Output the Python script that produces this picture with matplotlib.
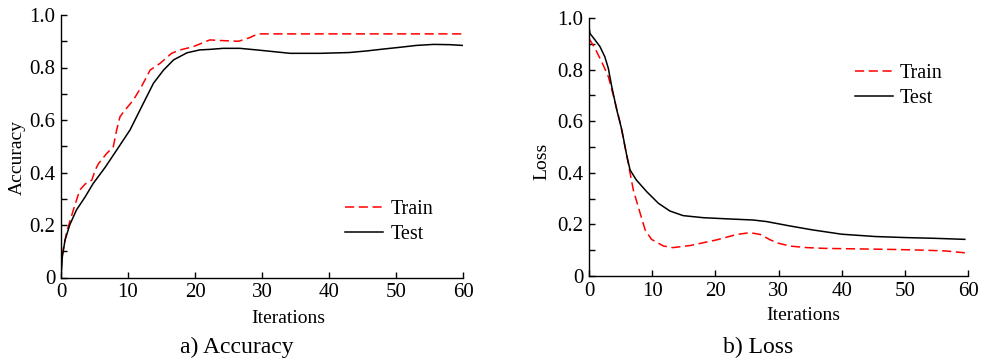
import numpy as np
import matplotlib
matplotlib.use("Agg")
import matplotlib.pyplot as plt

plt.rcParams['font.family'] = ['Liberation Serif', 'DejaVu Serif']

# Accuracy data
acc_train_x = [0, 0.2, 0.85, 1.84, 2.8, 3.6, 4.6, 5.1, 5.6, 6.8, 7.8, 8.3, 8.8, 9.3, 10.8, 12.0, 13.3, 14.8, 16.5, 17.8, 19.7, 22.2, 24.5, 26.5, 28.0, 29.4, 35, 40, 45, 50, 55, 60]
acc_train_y = [0.03, 0.09, 0.174, 0.257, 0.333, 0.356, 0.371, 0.409, 0.434, 0.472, 0.498, 0.561, 0.612, 0.630, 0.676, 0.727, 0.79, 0.816, 0.854, 0.867, 0.879, 0.905, 0.902, 0.900, 0.912, 0.928, 0.928, 0.928, 0.928, 0.928, 0.928, 0.928]
acc_test_x = [0, 0.2, 0.6, 1.3, 2.3, 3.6, 4.8, 6.6, 8.3, 10.3, 12.3, 13.8, 15.3, 16.8, 18.8, 20.7, 22.2, 24.2, 26.7, 29.2, 34.2, 38.7, 43.0, 45.6, 48.0, 50.6, 53.0, 55.6, 58.0, 60.0]
acc_test_y = [0.0, 0.079, 0.142, 0.2, 0.257, 0.307, 0.358, 0.42, 0.485, 0.562, 0.664, 0.740, 0.790, 0.829, 0.856, 0.867, 0.869, 0.873, 0.873, 0.867, 0.854, 0.854, 0.857, 0.863, 0.870, 0.877, 0.884, 0.888, 0.887, 0.884]

# Loss data
loss_train_x = [0, 0.95, 2.0, 3.06, 3.85, 4.9, 5.96, 7.02, 8.1, 8.9, 9.9, 11.8, 13.3, 16.0, 20.2, 23.4, 25.5, 27.1, 28.7, 30.0, 31.8, 34.5, 37.4, 42.7, 48.0, 53.2, 56.5, 59.5]
loss_train_y = [0.921, 0.882, 0.831, 0.773, 0.70, 0.598, 0.469, 0.333, 0.243, 0.178, 0.142, 0.116, 0.11, 0.118, 0.14, 0.161, 0.168, 0.161, 0.14, 0.127, 0.116, 0.110, 0.107, 0.105, 0.103, 0.10, 0.097, 0.09]
loss_test_x = [0, 0.16, 0.95, 1.74, 2.5, 3.06, 3.6, 4.4, 5.2, 5.96, 6.5, 7.5, 9.13, 10.98, 12.8, 14.9, 18.1, 22.3, 26.0, 28.1, 31.8, 35.3, 40.0, 45.3, 50.0, 54.8, 59.5]
loss_test_y = [0.966, 0.94, 0.915, 0.889, 0.85, 0.805, 0.734, 0.643, 0.566, 0.469, 0.411, 0.372, 0.327, 0.282, 0.252, 0.234, 0.226, 0.221, 0.217, 0.211, 0.194, 0.179, 0.162, 0.153, 0.149, 0.146, 0.142]

x_ticks = [0, 10, 20, 30, 40, 50, 60]
y_ticks = [0, 0.2, 0.4, 0.6, 0.8, 1.0]
y_tick_labels = ['0', '0.2', '0.4', '0.6', '0.8', '1.0']

fig = plt.figure(figsize=(9.82, 3.63), dpi=100)
W, H = 982, 363
ax1 = fig.add_axes([61 / W, 1 - 277.5 / H, (463 - 61) / W, (277.5 - 15) / H])
ax2 = fig.add_axes([589 / W, 1 - 276 / H, (968 - 589) / W, (276 - 18) / H])


def style(ax, ylabel, ylab_xy):
    ax.set_xlim(0, 60)
    ax.set_ylim(0, 1.0)
    ax.spines['top'].set_visible(False)
    ax.spines['right'].set_visible(False)
    for s in ['left', 'bottom']:
        ax.spines[s].set_linewidth(1.0)
    ax.set_xticks(x_ticks)
    ax.set_yticks(y_ticks)
    ax.set_yticklabels(y_tick_labels)
    ax.set_yticks(np.arange(0.1, 1.0, 0.2), minor=True)
    ax.tick_params(axis='both', which='both', direction='in', labelsize=15, width=1.0)
    ax.tick_params(axis='both', which='major', length=4)
    ax.tick_params(axis='x', which='major', pad=4)
    ax.tick_params(axis='y', which='major', pad=4)
    ax.tick_params(axis='both', which='minor', length=4)
    ax.set_xlabel('Iterations', fontsize=14, va='center')
    ax.xaxis.set_label_coords(0.565, -0.155)
    ax.set_ylabel(ylabel, fontsize=14, va='center')
    ax.yaxis.set_label_coords(*ylab_xy)


lw = 1.1
ax1.plot(acc_train_x, acc_train_y, color='red', linestyle=(0, (6, 3)), linewidth=lw, label='Train')
ax1.plot(acc_test_x, acc_test_y, color='black', linestyle='-', linewidth=lw, label='Test')
style(ax1, 'Accuracy', (-0.109, 0.459))
ax1.legend(loc='upper left', bbox_to_anchor=(0.687, 0.325), frameon=False, fontsize=14.5,
           handlelength=1.9, handletextpad=0.35, labelspacing=0.3, borderaxespad=0)
fig.text(237 / W, 1 - 347 / H, 'a) Accuracy', fontsize=17, ha='center', va='center')

ax2.plot(loss_train_x, loss_train_y, color='red', linestyle=(0, (6, 3)), linewidth=lw, label='Train')
ax2.plot(loss_test_x, loss_test_y, color='black', linestyle='-', linewidth=lw, label='Test')
style(ax2, 'Loss', (-0.125, 0.446))
ax2.legend(loc='upper left', bbox_to_anchor=(0.68, 0.853), frameon=False, fontsize=14.5,
           handlelength=1.9, handletextpad=0.35, labelspacing=0.3, borderaxespad=0)
fig.text(758 / W, 1 - 347 / H, 'b) Loss', fontsize=17, ha='center', va='center')

fig.savefig('out.png', dpi=100)
